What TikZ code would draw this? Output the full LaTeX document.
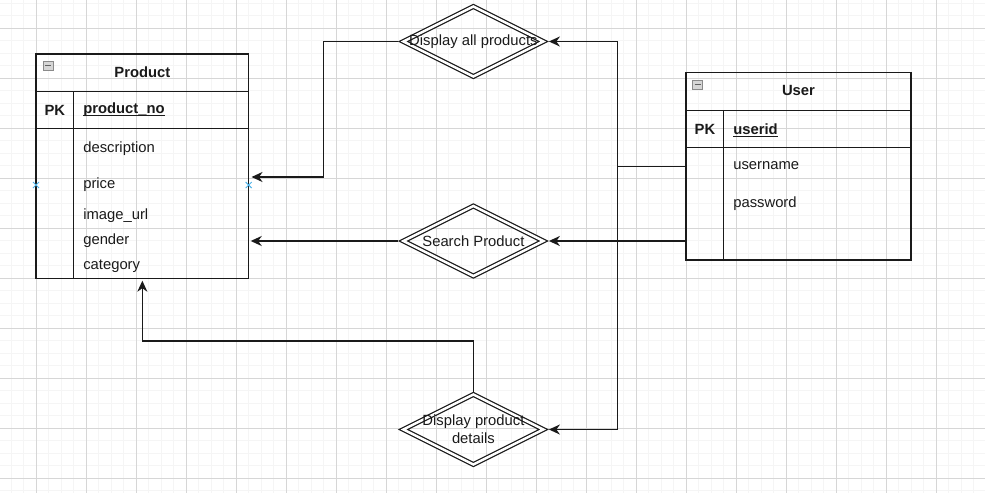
\documentclass[tikz,border=0pt]{standalone}
\usepackage{fontspec}
\setmainfont{Liberation Sans}
\usetikzlibrary{shapes.geometric,arrows.meta,calc}

\definecolor{gridminor}{HTML}{F5F5F5}
\definecolor{gridmajor}{HTML}{D6D6D6}
\definecolor{ink}{HTML}{1A1A1A}
\definecolor{pinblue}{HTML}{4FB3E8}
\definecolor{iconfill}{HTML}{D6D6D6}
\definecolor{iconedge}{HTML}{8A8A8A}

\begin{document}
\begin{tikzpicture}[x=1pt,y=-1pt,
  every node/.style={inner sep=0pt,outer sep=0pt,text=ink,font=\fontsize{14.8}{17.6}\selectfont},
  tablebox/.style={rectangle,draw=ink,line width=1.4pt},
  rule/.style={draw=ink,line width=1.4pt},
  titletext/.style={font=\fontsize{14.8}{17.6}\selectfont\bfseries},
  keytext/.style={font=\fontsize{14.8}{17.6}\selectfont\bfseries},
  keyfield/.style={anchor=west,font=\fontsize{14.8}{17.6}\selectfont\bfseries},
  field/.style={anchor=west},
  underl/.style={draw=ink,line width=1.1pt},
  relation/.style={diamond,draw=ink,double=white,double distance=2.4pt,
    line width=1.25pt,minimum width=140pt,minimum height=70pt},
  conn/.style={draw=ink,line width=1.5pt,
    -{Stealth[length=11pt,width=10pt,inset=3.5pt]}},
  pin/.style={draw=pinblue,line width=1pt},
  collapse/.style={draw=iconedge,fill=iconfill,line width=0.8pt},
  collapsebar/.style={draw=iconedge!70!black,line width=1.6pt}
]
\useasboundingbox (0,0) rectangle (985,493);

% background grid
\begin{scope}
\clip (0,0) rectangle (985,493);
\foreach \gx in {-1.2,11.3,...,990}
  \draw[gridminor,line width=0.8pt] (\gx,0) -- (\gx,493);
\foreach \gy in {3.3,15.8,...,500}
  \draw[gridminor,line width=0.8pt] (0,\gy) -- (985,\gy);
\foreach \gx in {36.3,86.3,...,990}
  \draw[gridmajor,line width=0.8pt] (\gx,0) -- (\gx,493);
\foreach \gy in {28.3,78.3,...,500}
  \draw[gridmajor,line width=0.8pt] (0,\gy) -- (985,\gy);
\end{scope}

% Product entity
\node[tablebox,minimum width=212.7pt,minimum height=224.7pt] (prod) at (142.35,166.35) {};
\draw[rule] (36,91.3) -- (248.7,91.3);
\draw[rule] (36,128.7) -- (248.7,128.7);
\draw[rule] (73.7,91.3) -- (73.7,278.7);
\draw[collapse] (43,61) rectangle (53,70);
\draw[collapsebar] (44.8,65.5) -- (51.2,65.5);
\node[titletext] (prodtitle) at (142.35,72.7) {Product};
\node[keytext] (prodpk) at (54.9,110) {PK};
\node[keyfield] (prodno) at (83.3,110) {product\_no};
\draw[underl] ([yshift=-1.6pt]prodno.base west) -- ([yshift=-1.6pt]prodno.base east);
\node[field] (fdesc) at (83.3,148.3) {description};
\node[field] (fprice) at (83.3,185) {price};
\node[field] (fimg) at (83.3,216) {image\_url};
\node[field] (fgender) at (83.3,241) {gender};
\node[field] (fcat) at (83.3,266) {category};
\draw[pin] (33,182) -- (39,188) (33,188) -- (39,182);
\draw[pin] (245.7,182) -- (251.7,188) (245.7,188) -- (251.7,182);

% User entity
\node[tablebox,minimum width=225pt,minimum height=187.3pt] (user) at (798.5,166.35) {};
\draw[rule] (686,110.3) -- (911,110.3);
\draw[rule] (686,147.7) -- (911,147.7);
\draw[rule] (723.7,110.3) -- (723.7,260);
\draw[collapse] (692.7,80) rectangle (702.7,89);
\draw[collapsebar] (694.5,84.5) -- (700.9,84.5);
\node[titletext] (usertitle) at (798.5,90.7) {User};
\node[keytext] (userpk) at (704.9,129.3) {PK};
\node[keyfield] (userid) at (733.3,129.3) {userid};
\draw[underl] ([yshift=-1.6pt]userid.base west) -- ([yshift=-1.6pt]userid.base east);
\node[field] (funame) at (733.3,166) {username};
\node[field] (fpass) at (733.3,204) {password};

% relationships
\node[relation,label={center:Display all products}] (dap) at (473.4,41.5) {};
\node[relation,label={center:Search Product}] (sp) at (473.4,241) {};
\node[relation,label={[align=center]center:Display product\\details}] (dpd) at (473.4,429.5) {};

% connectors
\coordinate (bus) at (617.5,166.35);
\coordinate (bendA) at (323.3,177);
\coordinate (prodA) at (251.5,177);
\draw[conn] (user.west) -- (bus) |- ([xshift=5.5pt]dap.east);
\draw[conn] (bus) |- ([xshift=5.5pt]dpd.east);
\draw[conn] (user.west |- sp.east) -- ([xshift=5.5pt]sp.east);
\draw[conn] ([xshift=-5.5pt]dap.west) -| (bendA) -- (prodA);
\draw[conn] ([xshift=-5.5pt]sp.west) -- ([xshift=2pt]prod.east |- sp.west);
\draw[conn] ([yshift=2.6pt]dpd.north) |- ($(prod.south)+(0,62.3)$) -- ([yshift=-2pt]prod.south);
\end{tikzpicture}
\end{document}
